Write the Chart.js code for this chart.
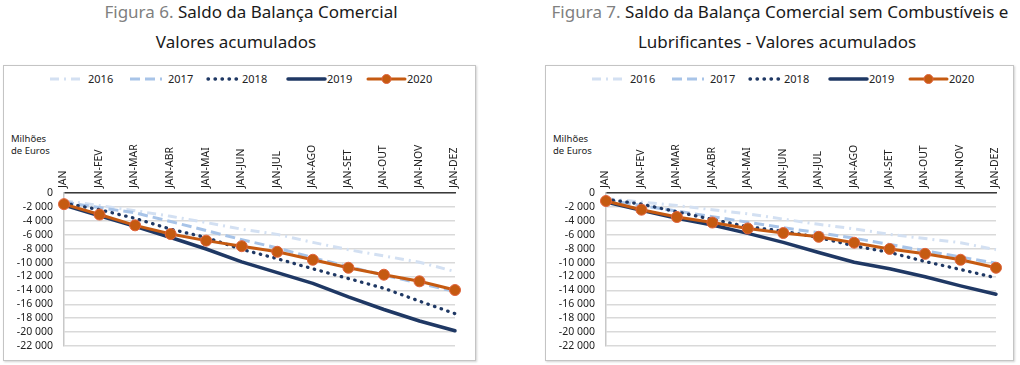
<!DOCTYPE html>
<html>
<head>
<meta charset="utf-8">
<script src="https://cdn.jsdelivr.net/npm/chart.js@4.4.1/dist/chart.umd.min.js"></script>
<style>
  html, body { margin: 0; padding: 0; background: #fff; }
  body { width: 1020px; height: 365px; position: relative; overflow: hidden; font-family: "Noto Sans", "Open Sans", sans-serif; }
  .title { position: absolute; font-size: 17px; line-height: 20px; color: #1a1a1a; white-space: nowrap; text-align: center; width: 600px; }
  .title .fig { color: #808080; }
  .box { position: absolute; top: 65px; height: 294px; border: 1px solid #c4c4c4; box-shadow: 1px 1px 2px rgba(0,0,0,0.18); background: #fff; }
  .unit { position: absolute; font-size: 9.5px; line-height: 12px; color: #222; }
  .legend { position: absolute; top: 71px; height: 16px; font-size: 11px; color: #222; }
  .legend svg { position: absolute; top: 0; }
  .legend span { position: absolute; top: 0; line-height: 16px; }
  canvas { position: absolute; }
</style>
</head>
<body>
<script>
// ---------- data ----------
const categories = ['JAN','JAN-FEV','JAN-MAR','JAN-ABR','JAN-MAI','JAN-JUN','JAN-JUL','JAN-AGO','JAN-SET','JAN-OUT','JAN-NOV','JAN-DEZ'];
const seriesNames = ['2016','2017','2018','2019','2020'];

// Figura 6 - Saldo da Balança Comercial (milhões de euros, acumulado)
const fig6_2016 = [-1100, -1800, -2550, -3350, -4250, -5200, -5950, -7100, -8150, -9050, -9950, -11300];
const fig6_2017 = [-1300, -2100, -2850, -4100, -5400, -6700, -7900, -9300, -10600, -11800, -13000, -14150];
const fig6_2018 = [-1450, -2400, -3650, -5200, -6400, -8100, -9450, -10900, -12300, -13700, -15550, -17350];
const fig6_2019 = [-1750, -3300, -4800, -6400, -8050, -9900, -11450, -13000, -14950, -16750, -18400, -19800];
const fig6_2020 = [-1600, -3100, -4650, -5900, -6850, -7650, -8450, -9600, -10750, -11750, -12700, -13950];

// Figura 7 - sem Combustíveis e Lubrificantes
const fig7_2016 = [-800, -1300, -1800, -2400, -3000, -3750, -4500, -5150, -5950, -6550, -7150, -8150];
const fig7_2017 = [-1000, -1800, -2600, -3400, -4200, -5000, -5700, -6500, -7400, -8300, -9200, -10100];
const fig7_2018 = [-900, -1600, -2700, -3800, -4850, -5500, -6400, -7600, -8550, -9850, -11000, -12200];
const fig7_2019 = [-1300, -2500, -3650, -4600, -5800, -7100, -8550, -9950, -10900, -12050, -13350, -14550];
const fig7_2020 = [-1150, -2400, -3450, -4250, -5100, -5750, -6300, -7150, -8050, -8750, -9600, -10750];

const yMin = -22000, yMax = 0, yStep = 2000;
const unitLabel = ['Milhões', 'de Euros'];
const titles6 = ['Figura 6.', ' Saldo da Balança Comercial', 'Valores acumulados'];
const titles7 = ['Figura 7.', ' Saldo da Balança Comercial sem Combustíveis e', 'Lubrificantes - Valores acumulados'];

// ---------- styles ----------
const styles = [
  { color: '#d3e0f2', dash: [9, 5, 2, 5], width: 3, cap: 'butt' },
  { color: '#a8c4e8', dash: [10, 5], width: 3, cap: 'butt' },
  { color: '#1f3864', dash: [0.5, 6.5], width: 3.3, cap: 'round' },
  { color: '#1f3864', dash: [], width: 3.5, cap: 'round' },
  { color: '#c55a11', dash: [], width: 3, cap: 'round' }
];

function fmt(v) {
  if (v === 0) return '0';
  const s = Math.abs(v).toString().replace(/\B(?=(\d{3})+(?!\d))/g, ' ');
  return (v < 0 ? '-' : '') + s;
}

function addTitle(left1, left2, t) {
  const d1 = document.createElement('div');
  d1.className = 'title';
  d1.style.left = (left1 - 300) + 'px';
  d1.style.top = '2px';
  d1.innerHTML = '<span class="fig">' + t[0] + '</span>' + t[1];
  document.body.appendChild(d1);
  const d2 = document.createElement('div');
  d2.className = 'title';
  d2.style.left = (left2 - 300) + 'px';
  d2.style.top = '32px';
  d2.textContent = t[2];
  document.body.appendChild(d2);
}

function addLegend(offset) {
  const lg = document.createElement('div');
  lg.className = 'legend';
  lg.style.left = offset + 'px';
  const sampleX = [50, 130, 208, 288, 368];
  const sampleW = [32, 32, 33, 37, 37];
  const textX = [88, 168, 242, 327, 407];
  seriesNames.forEach((n, i) => {
    const st = styles[i];
    const svgNS = 'http://www.w3.org/2000/svg';
    const svg = document.createElementNS(svgNS, 'svg');
    svg.setAttribute('width', sampleW[i] + 4);
    svg.setAttribute('height', 16);
    svg.style.left = (sampleX[i] - 2) + 'px';
    const ln = document.createElementNS(svgNS, 'line');
    ln.setAttribute('x1', 2); ln.setAttribute('x2', sampleW[i] + 2);
    ln.setAttribute('y1', 8); ln.setAttribute('y2', 8);
    ln.setAttribute('stroke', st.color);
    ln.setAttribute('stroke-width', st.width);
    ln.setAttribute('stroke-linecap', st.cap);
    if (st.dash.length) ln.setAttribute('stroke-dasharray', st.dash.join(' '));
    svg.appendChild(ln);
    if (i === 4) {
      const c = document.createElementNS(svgNS, 'circle');
      c.setAttribute('cx', sampleW[i] / 2 + 2); c.setAttribute('cy', 8); c.setAttribute('r', 4.5);
      c.setAttribute('fill', '#c55a11'); c.setAttribute('stroke', '#e0633c'); c.setAttribute('stroke-width', 1);
      svg.appendChild(c);
    }
    lg.appendChild(svg);
    const sp = document.createElement('span');
    sp.style.left = textX[i] + 'px';
    sp.textContent = n;
    lg.appendChild(sp);
  });
  document.body.appendChild(lg);
}

function addUnit(offset) {
  const u = document.createElement('div');
  u.className = 'unit';
  u.style.left = (offset + 11) + 'px';
  u.style.top = '133px';
  u.innerHTML = unitLabel[0] + '<br>' + unitLabel[1];
  document.body.appendChild(u);
}

function makeChart(left, width, padRight, data) {
  const cv = document.createElement('canvas');
  cv.width = width; cv.height = 259;
  cv.style.left = left + 'px'; cv.style.top = '100px';
  cv.style.width = width + 'px'; cv.style.height = '259px';
  document.body.appendChild(cv);
  const datasets = data.map((d, i) => {
    const st = styles[i];
    const isPts = i === 4;
    return {
      label: seriesNames[i],
      data: d,
      borderColor: st.color,
      backgroundColor: st.color,
      borderWidth: st.width,
      borderDash: st.dash,
      borderCapStyle: st.cap,
      borderJoinStyle: 'round',
      tension: 0,
      fill: false,
      pointRadius: isPts ? 5.5 : 0,
      pointHoverRadius: isPts ? 5.5 : 0,
      pointBackgroundColor: '#c55a11',
      pointBorderColor: '#e0633c',
      pointBorderWidth: 1,
      order: 5 - i,
      clip: false
    };
  });
  new Chart(cv.getContext('2d'), {
    type: 'line',
    data: { labels: categories, datasets },
    options: {
      responsive: false,
      animation: false,
      devicePixelRatio: 1,
      layout: { padding: { left: 0, right: padRight, top: 0, bottom: 13 } },
      plugins: { legend: { display: false }, tooltip: { enabled: false } },
      scales: {
        x: {
          position: 'top',
          offset: false,
          grid: { display: true, color: 'rgba(0,0,0,0)', drawTicks: false },
          border: { display: true, color: '#3a3a3a', width: 1.5 },
          ticks: {
            autoSkip: false, minRotation: 90, maxRotation: 90, padding: 5, labelOffset: 12,
            color: '#222', font: { family: 'Noto Sans', size: 10.5 }
          },
          afterFit: s => { s.height = 93; }
        },
        y: {
          min: yMin, max: yMax,
          grid: { color: '#d9d9d9', lineWidth: 1.5, drawTicks: false },
          border: { display: true, color: '#c8c8c8', width: 1.5 },
          ticks: {
            autoSkip: false, stepSize: yStep, padding: 11, color: '#222',
            font: { family: 'Noto Sans', size: 10.5 },
            callback: v => fmt(v)
          },
          afterFit: s => { s.width = 60; s.paddingTop = 0; s.paddingBottom = 0; }
        }
      }
    }
  });
}

// Figure 6
addTitle(251, 236, titles6);
const b1 = document.createElement('div'); b1.className = 'box'; b1.style.left = '3px'; b1.style.width = '471px'; document.body.appendChild(b1);
addLegend(0);
addUnit(0);
makeChart(4, 470, 19, [fig6_2016, fig6_2017, fig6_2018, fig6_2019, fig6_2020]);

// Figure 7
addTitle(780, 777, titles7);
const b2 = document.createElement('div'); b2.className = 'box'; b2.style.left = '545px'; b2.style.width = '467px'; document.body.appendChild(b2);
addLegend(542);
addUnit(542);
makeChart(546, 466, 16, [fig7_2016, fig7_2017, fig7_2018, fig7_2019, fig7_2020]);
</script>
</body>
</html>
